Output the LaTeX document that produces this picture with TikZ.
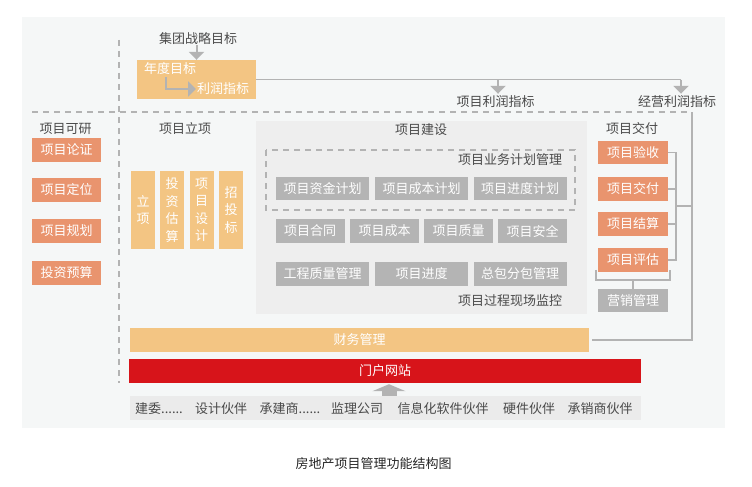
\documentclass[tikz,border=0pt]{standalone}
\usepackage{fontspec}
\setmainfont{Noto Sans CJK SC}
\usetikzlibrary{arrows.meta}
\definecolor{panelbg}{HTML}{F5F7F7}
\definecolor{salmon}{HTML}{E9946E}
\definecolor{lorange}{HTML}{F3C583}
\definecolor{boxgray}{HTML}{B4B4B4}
\definecolor{jsgray}{HTML}{EEEEEE}
\definecolor{portalred}{HTML}{D7141A}
\definecolor{hbgray}{HTML}{EBEBEB}
\definecolor{linegray}{HTML}{B3B3B3}
\definecolor{headgray}{HTML}{4A4A4A}
\newcommand{\sixdots}{......}
\begin{document}
\begin{tikzpicture}[x=1pt,y=-1pt,
    txt/.style={font=\fontsize{13}{15}\selectfont,text=headgray,inner sep=0pt},
    obox/.style={fill=salmon,text=white,font=\fontsize{13}{15}\selectfont,minimum width=69pt,minimum height=24pt,inner sep=0pt},
    vbox/.style={fill=lorange,text=white,font=\fontsize{13}{17.5}\selectfont,align=center,minimum width=24pt,minimum height=78pt,inner sep=0pt},
    gbox/.style={fill=boxgray,text=white,font=\fontsize{13}{15}\selectfont,minimum height=23.5pt,inner sep=0pt},
    bar/.style={text=white,font=\fontsize{13}{15}\selectfont,minimum height=24pt,inner sep=0pt},
    gline/.style={draw=linegray,line width=1.5pt},
    dline/.style={draw=linegray,line width=1.5pt,dash pattern=on 6pt off 5pt},
    garrow/.style={draw=linegray,line width=2pt,-{Triangle[width=15pt,length=8pt]}}]
    \useasboundingbox (0,0) rectangle (752,487);
    \fill[white] (0,0) rectangle (752,487);
    \fill[panelbg] (22,17) rectangle (725,428);
    \draw[dline] (119,40) -- (119,383);
    \draw[dline] (32,112) -- (688,112);
    \node[txt] (jtzl) at (198,39) {集团战略目标};
    \node[fill=lorange,minimum width=119pt,minimum height=39pt,inner sep=0pt] (ndmb) at (196.5,79.5) {};
    \node[txt,text=white,anchor=west] (ndtxt) at (144,69) {年度目标};
    \node[txt,text=white,anchor=west] (lrzb) at (197,89) {利润指标};
    \draw[garrow] (jtzl.south -| ndmb.north) -- (ndmb.north);
    \draw[garrow] (166,77) |- ([xshift=-1pt]lrzb.west);
    \node[txt] (xmlr) at (495.5,102) {项目利润指标};
    \node[txt] (jylr) at (677,102) {经营利润指标};
    \draw[gline] (ndmb.east) -- ([xshift=4pt]ndmb.east -| jylr.north);
    \draw[garrow] ([xshift=4pt]ndmb.east -| jylr.north) -- ([xshift=4pt,yshift=2pt]jylr.north);
    \draw[garrow] ([xshift=2.5pt]ndmb.east -| xmlr.north) -- ([xshift=2.5pt,yshift=2pt]xmlr.north);
    \node[txt] (kyhead) at (65.5,129) {项目可研};
    \node[obox] (lz) at (66.5,150) {项目论证};
    \node[obox] (dw) at (66.5,190) {项目定位};
    \node[obox] (gh) at (66.5,230.5) {项目规划};
    \node[obox] (ys) at (66.5,273) {投资预算};
    \node[txt] (lxhead) at (185,129) {项目立项};
    \node[vbox] (lx) at (143,210) {立\\项};
    \node[vbox] (tzgs) at (172,210) {投\\资\\估\\算};
    \node[vbox] (xmsj) at (201.5,210) {项\\目\\设\\计};
    \node[vbox] (ztb) at (231,210) {招\\投\\标};
    \fill[jsgray] (256,121) rectangle (587,314);
    \node[txt] (jshead) at (421,130) {项目建设};
    \draw[dline] (266,150) rectangle (575,210);
    \node[txt] (ywjh) at (510,160) {项目业务计划管理};
    \node[gbox,minimum width=93pt] (zjjh) at (322.5,188.5) {项目资金计划};
    \node[gbox,minimum width=93pt] (cbjh) at (421.5,188.5) {项目成本计划};
    \node[gbox,minimum width=93pt] (jdjh) at (520,188.5) {项目进度计划};
    \node[gbox,minimum width=69pt] (ht) at (310,231) {项目合同};
    \node[gbox,minimum width=69pt] (cb) at (384.5,231) {项目成本};
    \node[gbox,minimum width=69pt] (zl) at (458.5,231) {项目质量};
    \node[gbox,minimum width=69pt] (aq) at (532.5,231) {项目安全};
    \node[gbox,minimum width=93pt] (gczl) at (322.5,274) {工程质量管理};
    \node[gbox,minimum width=93pt] (jd) at (421.5,274) {项目进度};
    \node[gbox,minimum width=93pt] (zbfb) at (520,274) {总包分包管理};
    \node[txt] (xcjk) at (510,301) {项目过程现场监控};
    \node[txt] (jfhead) at (632,129) {项目交付};
    \node[obox,minimum width=70pt,minimum height=23.5pt] (ysh) at (633,152.5) {项目验收};
    \node[obox,minimum width=70pt,minimum height=23.5pt] (jf) at (633,189) {项目交付};
    \node[obox,minimum width=70pt,minimum height=23.5pt] (js) at (633,224) {项目结算};
    \node[obox,minimum width=70pt,minimum height=23.5pt] (pg) at (633,260) {项目评估};
    \node[gbox,minimum width=70pt] (yxgl) at (633,300.5) {营销管理};
    \node[bar,fill=lorange,minimum width=459pt] (cwgl) at (359.5,340) {财务管理};
    \node[bar,fill=portalred,minimum width=512pt] (mhwz) at (385,371) {门户网站};
    \node[fill=hbgray,minimum width=511pt,minimum height=24pt,inner sep=0pt] (hb) at (385.5,408) {};
    \foreach \x/\t [count=\i] in {159/建委\sixdots,221/设计伙伴,290/承建商\sixdots,357/监理公司,443/信息化软件伙伴,529/硬件伙伴,600/承销商伙伴}
        \node[txt] (hb\i) at (\x,409) {\t};
    \coordinate (br) at (676,206);
    \coordinate (mr) at (692,112);
    \draw[gline] (ysh.east) -| (br) |- (pg.east);
    \draw[gline] (jf.east) -- (jf.east -| br);
    \draw[gline] (js.east) -- (js.east -| br);
    \draw[gline] (br) -- (br -| mr);
    \draw[gline] (mr) |- ([xshift=3pt]cwgl.east);
    \draw[gline] ([xshift=-2pt]pg.south west) ++(0,-2) -- ++(0,10) -| ([xshift=2pt,yshift=2pt]pg.south east);
    \draw[gline] (pg.south) ++(0,8) -- (yxgl.north);
    \draw[draw=linegray,line width=15pt,-{Triangle[width=33pt,length=7pt]}] (hb.north -| 389,0) -- ([yshift=-1pt]mhwz.south -| 389,0);
    \node[txt,text=black!85] (title) at (373.5,464) {房地产项目管理功能结构图};
\end{tikzpicture}
\end{document}
